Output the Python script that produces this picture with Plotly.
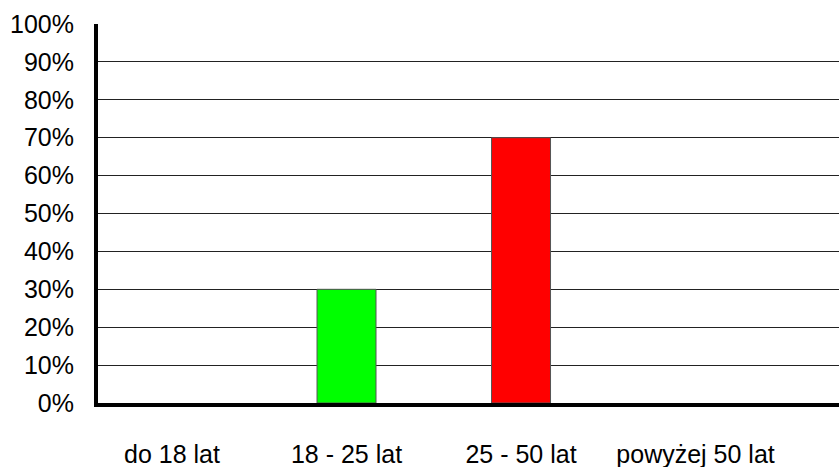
import plotly.graph_objects as go

# age groups and share of respondents (%)
categories = ['do 18 lat', '18 - 25 lat', '25 - 50 lat', 'powyżej 50 lat']
values = [0, 30, 70, 0]
bar_colors = ['#00FF00', '#00FF00', '#FF0000', '#FF0000']

y_ticks = list(range(0, 101, 10))
y_labels = [f'{v}%' for v in y_ticks]

# no outline on empty bars so nothing shows on the axis
outline_widths = [1 if v > 0 else 0 for v in values]

fig = go.Figure(go.Bar(
    x=categories,
    y=values,
    width=0.338,
    marker=dict(color=bar_colors, line=dict(color='#555555', width=outline_widths)),
))

fig.update_layout(
    width=839,
    height=467,
    margin=dict(l=98, r=0, t=24, b=64),
    paper_bgcolor='white',
    plot_bgcolor='white',
    showlegend=False,
    font=dict(family='Liberation Sans, Arial, sans-serif', size=25, color='black'),
    xaxis=dict(
        type='category',
        range=[-0.424, 3.822],
        showgrid=False,
        showline=True,
        linecolor='black',
        linewidth=4,
        ticks='',
        ticklabelstandoff=26,
        automargin=False,
        fixedrange=True,
    ),
    yaxis=dict(
        range=[0, 100],
        tickmode='array',
        tickvals=y_ticks,
        ticktext=y_labels,
        showgrid=True,
        gridcolor='#222222',
        gridwidth=1,
        showline=True,
        linecolor='black',
        linewidth=4,
        ticks='',
        ticklabelstandoff=15,
        zeroline=False,
        automargin=False,
        fixedrange=True,
    ),
)

# drop the browser's default body margin so the figure fills the window
fig.write_html(
    "out.html",
    config={'displayModeBar': False},
    post_script="document.body.style.margin = '0'; document.body.style.overflow = 'hidden';",
)
